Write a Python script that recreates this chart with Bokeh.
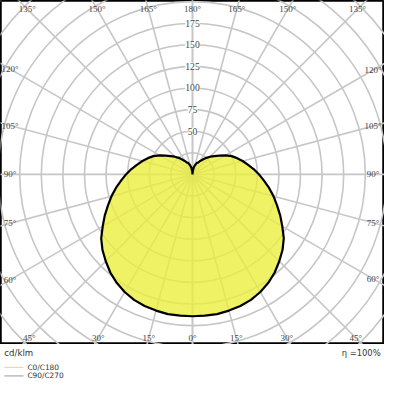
import numpy as np
from bokeh.plotting import figure
from bokeh.layouts import column
from bokeh.models import Range1d
from bokeh.core.properties import value
from bokeh.embed import file_html
from bokeh.resources import INLINE

# ---- data ----
gamma = [0, 5, 10, 15, 20, 25, 30, 35, 40, 45, 50, 55, 60, 65, 70, 75, 80, 85, 90,
         95, 100, 105, 110, 115, 120, 125, 130, 135, 140, 145, 150, 155, 160, 165,
         170, 175, 180]
intensity = [164, 164, 164, 163, 162, 160, 157, 153, 148, 142, 136, 129, 120, 112,
             104, 97, 90, 83, 77, 71, 65, 60, 55, 50, 44, 38, 33, 29, 25, 21, 18,
             15, 14, 11, 8, 4, 0]
radial_ticks = [50, 75, 100, 125, 150, 175]
grid_radii = [25, 50, 75, 100, 125, 150, 175, 200, 225, 250, 275, 300, 325]
ray_angles = [0, 15, 30, 45, 60, 75, 90, 105, 120, 135, 150, 165, 180]
top_labels = [135, 150, 165, 180]
side_labels = [120, 105, 90, 75, 60]
bottom_labels = [45, 30, 15, 0]
unit_label = "cd/klm"
eta_label = "η =100%"
legend_names = ["C0/C180", "C90/C270"]
legend_colors = ["#F6CBA8", "#9A9A9A"]

FONT = value("DejaVu Sans")
NARROW = value("Liberation Sans Narrow")
TXT = "#333333"
S = 0.96          # page scale (384 / 400)
K = 0.9           # reference px per cd/klm
CX, CY = 200, 181 # centre in reference px

XH = CX / K
Y_TOP = CY / K
Y_BOT = (CY - 358) / K

p = figure(width=384, height=round(358 * S), x_range=Range1d(-XH, XH),
           y_range=Range1d(Y_BOT, Y_TOP), output_backend="svg",
           toolbar_location=None, min_border=0,
           x_axis_location=None, y_axis_location=None)
p.grid.visible = False
p.outline_line_color = "black"
p.outline_line_width = 2.5
p.background_fill_color = "white"

# grid circles
n = len(grid_radii)
p.circle(x=[0] * n, y=[0] * n, radius=grid_radii, fill_color=None,
         line_color="#C6C6C6", line_width=1.6)

# rays
R = 400
th = np.radians(ray_angles)
x1 = np.concatenate([-R * np.sin(th), R * np.sin(th)])
y1 = np.concatenate([-R * np.cos(th), -R * np.cos(th)])
p.segment(x0=np.zeros_like(x1), y0=np.zeros_like(y1), x1=x1, y1=y1,
          line_color="#C6C6C6", line_width=1.6)

# luminous intensity distribution
g = np.radians(gamma)
I = np.array(intensity, dtype=float)
xr = I * np.sin(g)
yr = -I * np.cos(g)
xs = np.concatenate([xr, -xr[::-1]])
ys = np.concatenate([yr, yr[::-1]])
p.patch(xs, ys, fill_color="#EBEE38", fill_alpha=0.78, line_color=None)
p.line(xs, ys, line_color="black", line_width=2.2)

# radial tick labels
p.text(x=[0] * len(radial_ticks), y=radial_ticks, text=[str(v) for v in radial_ticks],
       text_align="center", text_baseline="middle", text_font=NARROW,
       text_font_size="9.6px", text_color="#444444",
       background_fill_color="white", background_fill_alpha=1.0)

# angle labels
lx, ly, lt = [], [], []
yt = (CY - 9) / K
for a in top_labels:
    t = np.radians(a)
    xx = yt * np.tan(np.pi - t) if a != 180 else 0.0
    for sgn in ([-1, 1] if a != 180 else [1]):
        lx.append(sgn * xx)
        ly.append(yt)
        lt.append(f"{a}°")
xl = (CX - 10) / K
xrgt = (CX - 12) / K
for a in side_labels:
    t = np.radians(a)
    cot = np.cos(t) / np.sin(t)
    lx += [-xl, xrgt]
    ly += [-xl * cot, -xrgt * cot]
    lt += [f"{a}°", f"{a}°"]
yb = (CY - 351) / K
for a in bottom_labels:
    t = np.radians(a)
    xx = -yb * np.tan(t)
    for sgn in ([-1, 1] if a != 0 else [1]):
        lx.append(sgn * xx)
        ly.append(yb)
        lt.append(f"{a}°")
p.text(x=lx, y=ly, text=lt, text_align="center", text_baseline="middle",
       text_font=NARROW, text_font_size="9px", text_color="#444444")

# ---- bottom strip (reference px coordinates) ----
q = figure(width=384, height=384 - round(358 * S), x_range=Range1d(0, 400),
           y_range=Range1d(400, 358), output_backend="svg",
           toolbar_location=None, min_border=0,
           x_axis_location=None, y_axis_location=None)
q.grid.visible = False
q.outline_line_color = None

q.text(x=[4], y=[367], text=[unit_label], text_align="left", text_baseline="middle",
       text_font=FONT, text_font_size="8.6px", text_color=TXT)
q.text(x=[396], y=[367], text=[eta_label], text_align="right", text_baseline="middle",
       text_font=FONT, text_font_size="8.4px", text_color=TXT)
ly2 = [382, 391]
q.segment(x0=[4, 4], y0=ly2, x1=[24, 24], y1=ly2, line_color=legend_colors, line_width=1)
q.text(x=[28, 28], y=ly2, text=legend_names, text_align="left", text_baseline="middle",
       text_font=FONT, text_font_size="7.4px", text_color=TXT)

layout = column(p, q, spacing=0)
open("out.html", "w").write(file_html(layout, INLINE))
